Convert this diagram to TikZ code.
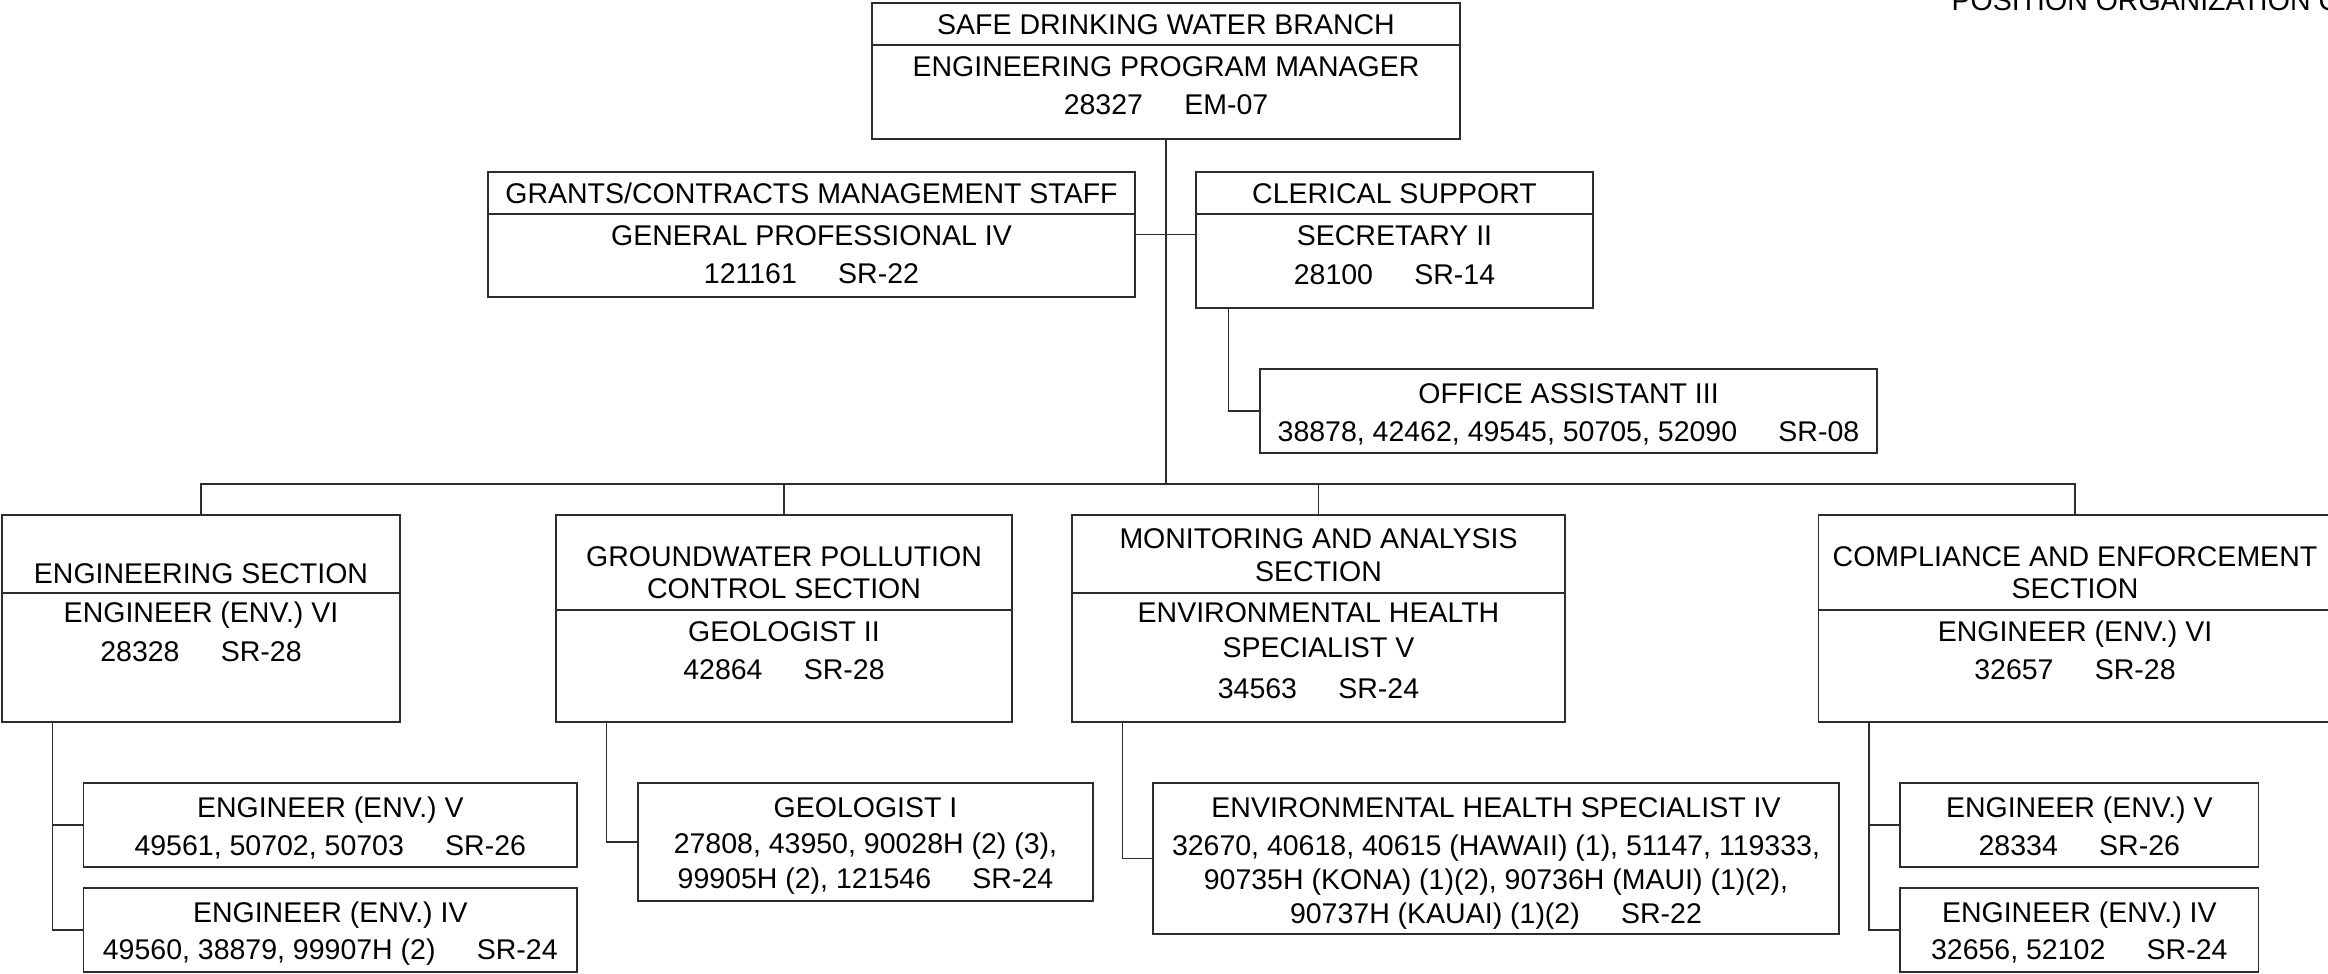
\documentclass[tikz,border=0pt]{standalone}
\usepackage{fontspec}
\setmainfont{Liberation Sans}
\usepackage{tikz}
\definecolor{inkgray}{RGB}{45, 45, 45}
\newcommand{\px}{0.3pt}
\newcommand{\tabgap}{\hspace{1.45em}}
\tikzset{
  post/.style    = {draw=inkgray, line width=0.45pt, inner sep=0pt},
  divider/.style = {draw=inkgray, line width=0.45pt},
  link/.style    = {draw=inkgray, line width=0.45pt},
  lbl/.style     = {inner sep=0pt, text height=6.12pt, text depth=0pt, font=\fontsize{8.55pt}{10pt}\selectfont}
}

\begin{document}
\begin{tikzpicture}[x=\px, y=-\px]
            \useasboundingbox (0,0) rectangle (2328,974);
            \node[lbl, anchor=base west] (chart) at (1951, 10.5) {POSITION ORGANIZATION CHART};
            % branch head and staff
            \node[post, minimum width=588*\px, minimum height=136*\px] (prog)     at (1166.0,  71.0) {};
            \node[post, minimum width=647*\px, minimum height=125*\px] (grants)   at ( 811.5, 234.5) {};
            \node[post, minimum width=397*\px, minimum height=136*\px] (clerical) at (1394.5, 240.0) {};
            \node[post, minimum width=617*\px, minimum height=84*\px]  (office)   at (1568.5, 411.0) {};
            \draw[divider] (prog.west |- 0,45)      -- (prog.east |- 0,45);
            \draw[divider] (grants.west |- 0,214)   -- (grants.east |- 0,214);
            \draw[divider] (clerical.west |- 0,214) -- (clerical.east |- 0,214);
            \node[lbl] (prog-a)     at (1166.0,  24) {SAFE DRINKING WATER BRANCH};
            \node[lbl] (prog-b)     at (1166.0,  66) {ENGINEERING PROGRAM MANAGER};
            \node[lbl] (prog-c)     at (1166.0, 104) {28327\tabgap EM-07};
            \node[lbl] (grants-a)   at ( 811.5, 193) {GRANTS/CONTRACTS MANAGEMENT STAFF};
            \node[lbl] (grants-b)   at ( 811.5, 235) {GENERAL PROFESSIONAL IV};
            \node[lbl] (grants-c)   at ( 811.5, 273) {121161\tabgap SR-22};
            \node[lbl] (clerical-a) at (1394.5, 193) {CLERICAL SUPPORT};
            \node[lbl] (clerical-b) at (1394.5, 235) {SECRETARY II};
            \node[lbl] (clerical-c) at (1394.5, 274) {28100\tabgap SR-14};
            \node[lbl] (office-a)   at (1568.5, 393) {OFFICE ASSISTANT III};
            \node[lbl] (office-b)   at (1568.5, 431) {38878, 42462, 49545, 50705, 52090\tabgap SR-08};
            % sections
            \node[post, minimum width=398*\px, minimum height=207*\px] (engsec)  at ( 201.0, 618.5) {};
            \node[post, minimum width=456*\px, minimum height=207*\px] (gwsec)   at ( 784.0, 618.5) {};
            \node[post, minimum width=493*\px, minimum height=207*\px] (monsec)  at (1318.5, 618.5) {};
            \node[post, minimum width=513*\px, minimum height=207*\px] (compsec) at (2075.0, 618.5) {};
            \draw[divider] (engsec.west |- 0,593)  -- (engsec.east |- 0,593);
            \draw[divider] (gwsec.west |- 0,610)   -- (gwsec.east |- 0,610);
            \draw[divider] (monsec.west |- 0,593)  -- (monsec.east |- 0,593);
            \draw[divider] (compsec.west |- 0,610) -- (compsec.east |- 0,610);
            \node[lbl] (engsec-a)  at ( 201.0, 573) {ENGINEERING SECTION};
            \node[lbl] (engsec-b)  at ( 201.0, 612) {ENGINEER (ENV.) VI};
            \node[lbl] (engsec-c)  at ( 201.0, 651) {28328\tabgap SR-28};
            \node[lbl] (gwsec-a)   at ( 784.0, 556) {GROUNDWATER POLLUTION};
            \node[lbl] (gwsec-b)   at ( 784.0, 588) {CONTROL SECTION};
            \node[lbl] (gwsec-c)   at ( 784.0, 631) {GEOLOGIST II};
            \node[lbl] (gwsec-d)   at ( 784.0, 669) {42864\tabgap SR-28};
            \node[lbl] (monsec-a)  at (1318.5, 538) {MONITORING AND ANALYSIS};
            \node[lbl] (monsec-b)  at (1318.5, 571) {SECTION};
            \node[lbl] (monsec-c)  at (1318.5, 612) {ENVIRONMENTAL HEALTH};
            \node[lbl] (monsec-d)  at (1318.5, 647) {SPECIALIST V};
            \node[lbl] (monsec-e)  at (1318.5, 688) {34563\tabgap SR-24};
            \node[lbl] (compsec-a) at (2075.0, 556) {COMPLIANCE AND ENFORCEMENT};
            \node[lbl] (compsec-b) at (2075.0, 588) {SECTION};
            \node[lbl] (compsec-c) at (2075.0, 631) {ENGINEER (ENV.) VI};
            \node[lbl] (compsec-d) at (2075.0, 669) {32657\tabgap SR-28};
            % positions under the sections
            \node[post, minimum width=493.5*\px, minimum height=84*\px]  (engv)   at ( 330.3, 825.0) {};
            \node[post, minimum width=493.5*\px, minimum height=84*\px]  (engiv)  at ( 330.3, 930.0) {};
            \node[post, minimum width=455*\px,   minimum height=118*\px] (geoi)   at ( 865.5, 842.0) {};
            \node[post, minimum width=686*\px,   minimum height=151*\px] (ehsiv)  at (1496.0, 858.5) {};
            \node[post, minimum width=358.6*\px, minimum height=84*\px]  (compv)  at (2079.3, 825.0) {};
            \node[post, minimum width=358.6*\px, minimum height=84*\px]  (compiv) at (2079.3, 930.0) {};
            \node[lbl] (engv-a)   at ( 330.3, 807) {ENGINEER (ENV.) V};
            \node[lbl] (engv-b)   at ( 330.3, 845) {49561, 50702, 50703\tabgap SR-26};
            \node[lbl] (engiv-a)  at ( 330.3, 912) {ENGINEER (ENV.) IV};
            \node[lbl] (engiv-b)  at ( 330.3, 949) {49560, 38879, 99907H (2)\tabgap SR-24};
            \node[lbl] (geoi-a)   at ( 865.5, 807) {GEOLOGIST I};
            \node[lbl] (geoi-b)   at ( 865.5, 843) {27808, 43950, 90028H (2) (3),};
            \node[lbl] (geoi-c)   at ( 865.5, 878) {99905H (2), 121546\tabgap SR-24};
            \node[lbl] (ehsiv-a)  at (1496.0, 807) {ENVIRONMENTAL HEALTH SPECIALIST IV};
            \node[lbl] (ehsiv-b)  at (1496.0, 845) {32670, 40618, 40615 (HAWAII) (1), 51147, 119333,};
            \node[lbl] (ehsiv-c)  at (1496.0, 879) {90735H (KONA) (1)(2), 90736H (MAUI) (1)(2),};
            \node[lbl] (ehsiv-d)  at (1496.0, 913) {90737H (KAUAI) (1)(2)\tabgap SR-22};
            \node[lbl] (compv-a)  at (2079.3, 807) {ENGINEER (ENV.) V};
            \node[lbl] (compv-b)  at (2079.3, 845) {28334\tabgap SR-26};
            \node[lbl] (compiv-a) at (2079.3, 912) {ENGINEER (ENV.) IV};
            \node[lbl] (compiv-b) at (2079.3, 949) {32656, 52102\tabgap SR-24};
            % connectors
            \coordinate (bus) at (1166, 484);
            \draw[link] (prog.south)   -- (prog.south |- bus);
            \draw[link] (grants.east)  -- (grants.east -| clerical.west);
            \draw[link] ([xshift=33*\px]clerical.south west) |- (office.west);
            \draw[link] (engsec.north) -- (engsec.north |- bus) -| (compsec.north);
            \draw[link] (gwsec.north)  -- (gwsec.north |- bus);
            \draw[link] (monsec.north) -- (monsec.north |- bus);
            \draw[link] ([xshift=51*\px]engsec.south west)  |- (engv.west);
            \draw[link] ([xshift=51*\px]engsec.south west)  |- (engiv.west);
            \draw[link] ([xshift=51*\px]gwsec.south west)   |- (geoi.west);
            \draw[link] ([xshift=51*\px]monsec.south west)  |- (ehsiv.west);
            \draw[link] ([xshift=51*\px]compsec.south west) |- (compv.west);
            \draw[link] ([xshift=51*\px]compsec.south west) |- (compiv.west);
\end{tikzpicture}
\end{document}
